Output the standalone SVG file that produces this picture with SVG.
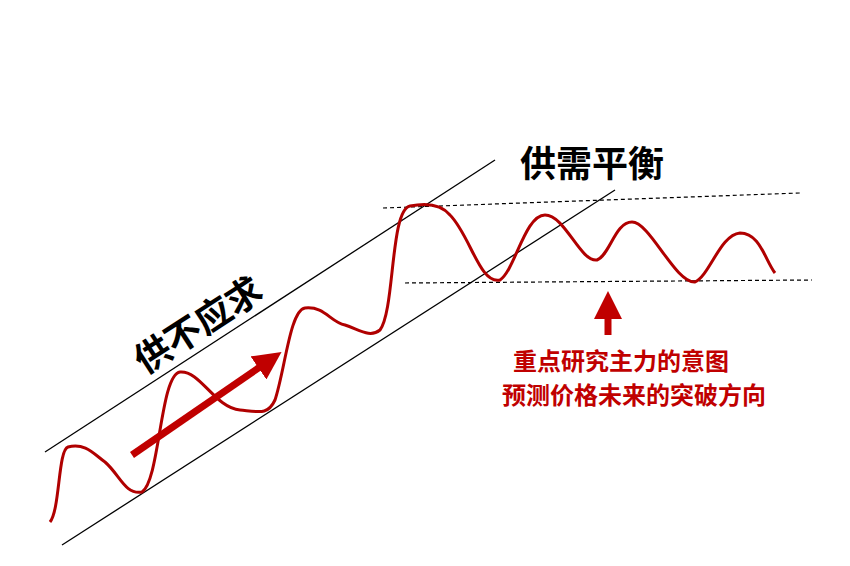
<svg xmlns="http://www.w3.org/2000/svg" width="850" height="566" viewBox="0 0 850 566">
<style>
.ln{stroke:#000;stroke-width:1.3;fill:none}
.ds{stroke:#000;stroke-width:1.2;fill:none;stroke-dasharray:4,3}
.bk{font-family:"Liberation Sans","Noto Sans CJK SC",sans-serif;font-weight:bold;fill:#000}
.rd{font-family:"Liberation Sans","Noto Sans CJK SC",sans-serif;font-weight:bold;fill:#c00000;font-size:24px}
</style>
<defs>
<marker id="ah" markerWidth="4" markerHeight="4" refX="2" refY="2" orient="auto"><path d="M0,0 L4,2 L0,4 Z" fill="#c00000"/></marker>
</defs>
<rect width="850" height="566" fill="#fff"/>
<g id="channel">
<line class="ln" x1="45" y1="452" x2="495" y2="160"/>
<line class="ln" x1="62" y1="545" x2="615" y2="190"/>
<line class="ds" x1="383" y1="208" x2="800" y2="193"/>
<line class="ds" x1="405" y1="283" x2="812" y2="280"/>
</g>
<g id="wave">
<path d="M50,522 C60,510 58,450 68,447 C85,442 95,455 105,462 C120,475 125,495 142,492 C160,480 160,375 180,372 C200,370 215,408 240,410 C260,412 268,415 275,400 C285,370 290,310 305,308 C325,306 330,322 345,325 C360,330 370,338 380,330 C395,310 390,210 410,206 C425,203 440,203 450,215 C470,235 480,285 500,280 C515,270 525,215 545,215 C565,215 580,262 597,260 C610,255 615,222 632,222 C650,222 675,283 695,282 C710,275 720,235 740,233 C760,233 765,260 775,273" stroke="#b00000" stroke-width="3" fill="none"/>
</g>
<g id="arrows">
<line x1="132" y1="455" x2="270" y2="360" stroke="#c00000" stroke-width="7" marker-end="url(#ah)"/>
<line x1="608" y1="335" x2="608" y2="305" stroke="#c00000" stroke-width="7" marker-end="url(#ah)"/>
</g>
<g id="labels">
<text class="bk" x="520" y="177" font-size="36">供需平衡</text>
<text class="bk" x="145" y="375" font-size="36" transform="rotate(-33 145 375)">供不应求</text>
<text class="rd" x="621" y="370" text-anchor="middle">重点研究主力的意图</text>
<text class="rd" x="634" y="404" text-anchor="middle">预测价格未来的突破方向</text>
</g>
</svg>
